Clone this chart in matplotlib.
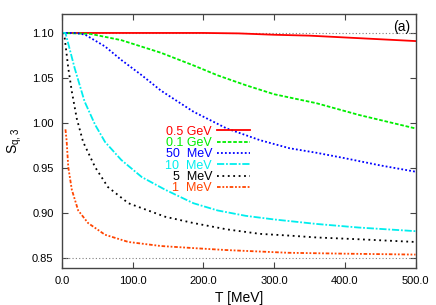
import matplotlib
matplotlib.use("Agg")
import matplotlib.pyplot as plt

plt.rcParams['font.family'] = ['Liberation Sans', 'DejaVu Sans']
plt.rcParams['font.size'] = 8
plt.rcParams['mathtext.fontset'] = 'custom'
plt.rcParams['mathtext.rm'] = 'Liberation Sans'

# Valeurs : T [MeV] et S_q,3 pour chaque courbe
t_05gev = [0, 50, 100, 150, 200, 250, 300, 350, 400, 450, 500]
s_05gev = [1.100, 1.100, 1.100, 1.100, 1.100, 1.0995, 1.098, 1.097, 1.095, 1.093, 1.091]

t_01gev = [0, 40, 84, 140, 186, 220, 260, 300, 360, 420, 500]
s_01gev = [1.100, 1.099, 1.092, 1.078, 1.064, 1.053, 1.042, 1.032, 1.022, 1.009, 0.994]

t_50mev = [0, 20, 33, 61, 84, 113, 140, 186, 233, 280, 322, 360, 400, 450, 500]
s_50mev = [1.100, 1.100, 1.098, 1.085, 1.070, 1.053, 1.036, 1.0126, 0.994, 0.981, 0.972,
           0.967, 0.961, 0.953, 0.946]

t_10mev = [0, 5, 18, 32, 47, 61, 84, 113, 146, 186, 220, 260, 300, 360, 420, 500]
s_10mev = [1.100, 1.100, 1.061, 1.024, 0.998, 0.979, 0.959, 0.940, 0.926, 0.911, 0.903,
           0.897, 0.893, 0.888, 0.884, 0.880]

t_5mev = [0, 4, 9, 14, 21, 30, 47, 65, 94, 127, 146, 186, 233, 280, 323, 360, 420, 500]
s_5mev = [1.100, 1.094, 1.061, 1.035, 1.005, 0.979, 0.951, 0.929, 0.911, 0.9015, 0.896,
          0.889, 0.882, 0.877, 0.875, 0.873, 0.871, 0.868]

t_1mev = [5, 6.6, 9, 14, 23, 37, 61, 94, 140, 190, 233, 320, 400, 500]
s_1mev = [0.993, 0.981, 0.951, 0.926, 0.903, 0.889, 0.876, 0.868, 0.8635, 0.861, 0.859,
          0.856, 0.855, 0.854]

s_max = 1.10
s_min = 0.85

fig = plt.figure(figsize=(4.36, 3.05), dpi=100)
ax = fig.add_axes([0.142, 0.121, 0.811, 0.833])

# Lignes de référence
ax.axhline(s_max, color='gray', lw=0.8, ls=(0, (1, 2)))
ax.axhline(s_min, color='gray', lw=0.8, ls=(0, (1, 2)))

ax.plot(t_05gev, s_05gev, color='#ff0000', lw=1.3, ls='-', label='0.5 GeV')
ax.plot(t_01gev, s_01gev, color='#00ee00', lw=1.3, ls=(0, (2, 1)), label='0.1 GeV')
ax.plot(t_50mev, s_50mev, color='#0000ff', lw=1.3, ls=(0, (1, 1.2)), label='50  MeV')
ax.plot(t_10mev, s_10mev, color='#00eeee', lw=1.3, ls=(0, (4, 1, 1, 1)), label='10  MeV')
ax.plot(t_5mev, s_5mev, color='#000000', lw=1.3, ls=(0, (1, 2)), label='5  MeV')
ax.plot(t_1mev, s_1mev, color='#ff4500', lw=1.3, ls=(0, (2, 1, 1, 1, 1, 1)), label='1  MeV')

ax.set_xlim(0, 500)
ax.set_ylim(0.839, 1.121)
ax.set_xticks([0, 100, 200, 300, 400, 500])
ax.set_xticklabels(['0.0', '100.0', '200.0', '300.0', '400.0', '500.0'])
ax.set_yticks([0.85, 0.90, 0.95, 1.00, 1.05, 1.10])
ax.set_yticklabels(['0.85', '0.90', '0.95', '1.00', '1.05', '1.10'])
ax.tick_params(direction='in', top=True, right=True, length=4, width=0.8,
               color='#444444', labelsize=8, pad=6)
for sp in ax.spines.values():
    sp.set_color('#444444')
    sp.set_linewidth(1.0)

ax.set_xlabel('T [MeV]', fontsize=10, labelpad=3)
ax.set_ylabel(r'$\mathregular{S_{q,3}}$', fontsize=10, labelpad=6)
ax.text(0.985, 0.975, '(a)', transform=ax.transAxes, ha='right', va='top', fontsize=10)

leg = ax.legend(loc='upper right', bbox_to_anchor=(0.532, 0.561), frameon=False,
                markerfirst=False, labelcolor='linecolor', handlelength=2.64,
                handletextpad=0.4, labelspacing=-0.05, borderpad=0, borderaxespad=0,
                fontsize=9)
for txt in leg.get_texts():
    txt.set_ha('right')

fig.savefig('out.png', dpi=100)
